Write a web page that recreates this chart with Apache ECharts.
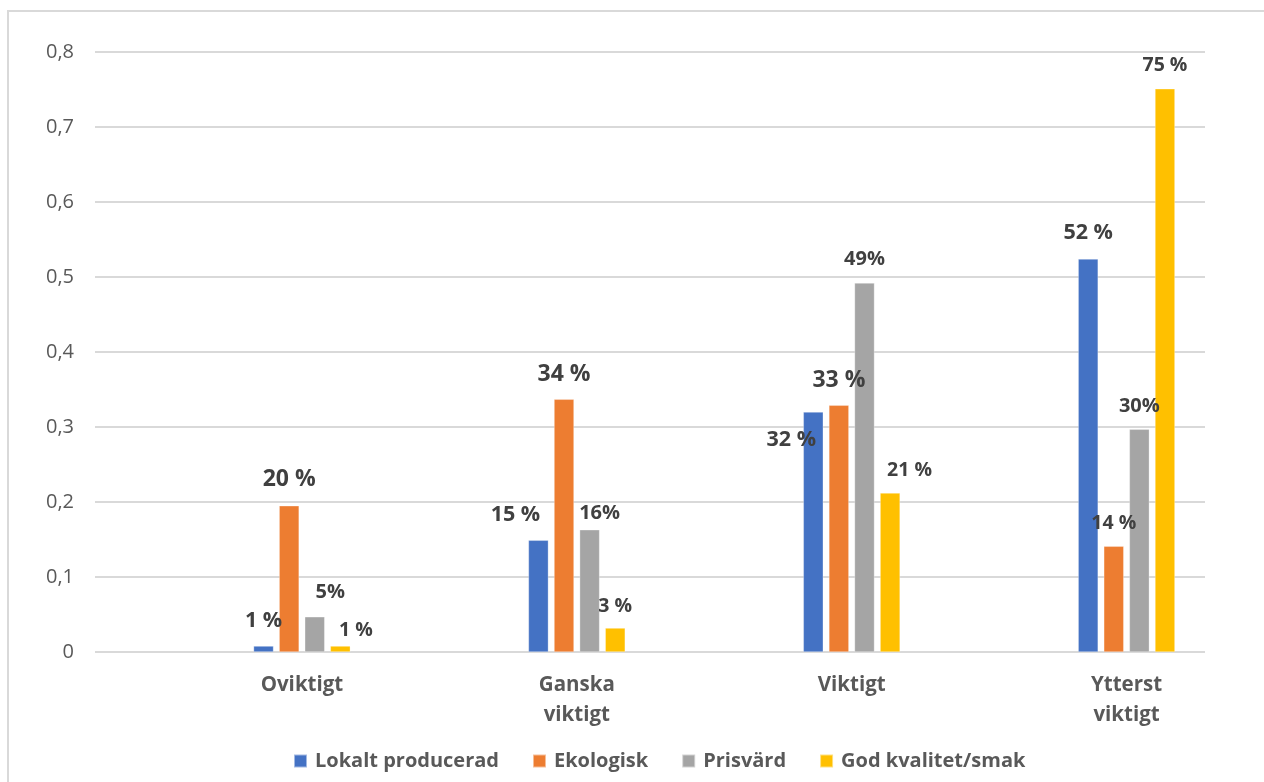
<!DOCTYPE html>
<html>
<head>
<meta charset="utf-8">
<script src="https://cdn.jsdelivr.net/npm/echarts@6/dist/echarts.min.js"></script>
<style>
  html, body { margin: 0; padding: 0; background: #ffffff; }
  #chart { width: 1264px; height: 782px; }
</style>
</head>
<body>
<div id="chart"></div>
<script>
// Categories and answer shares per series (fractions of respondents)
const categories = ['Oviktigt', 'Ganska\nviktigt', 'Viktigt', 'Ytterst\nviktigt'];
const lokaltProducerad = [0.008, 0.149, 0.320, 0.524];
const ekologisk = [0.195, 0.337, 0.329, 0.141];
const prisvard = [0.047, 0.163, 0.492, 0.297];
const godKvalitet = [0.008, 0.032, 0.212, 0.751];
const yTickLabels = ['0', '0,1', '0,2', '0,3', '0,4', '0,5', '0,6', '0,7', '0,8'];

// Visual settings per series: colour, label font size, percent format and label nudges [dx, dy from bar top]
const seriesDefs = [
  { name: 'Lokalt producerad', values: lokaltProducerad, color: '#4472C4', space: true,
    sizes: [21.5, 21.5, 21.5, 21.5], nudge: [[0, -25], [-23, -25], [-22, 28], [0, -26]] },
  { name: 'Ekologisk', values: ekologisk, color: '#ED7D31', space: true,
    sizes: [23, 23, 23, 19.5], nudge: [[0, -26], [0, -25], [0, -25], [0, -23]] },
  { name: 'Prisvärd', values: prisvard, color: '#A5A5A5', space: false,
    sizes: [20, 20, 20, 20], nudge: [[15.5, -24], [10, -16], [0, -24], [0, -23]] },
  { name: 'God kvalitet/smak', values: godKvalitet, color: '#FFC000', space: true,
    sizes: [19.5, 19.5, 19.5, 19.5], nudge: [[15.5, -16], [0, -22], [19.5, -23], [0, -23]] }
];

const FONT = '"Open Sans", "Noto Sans", sans-serif';
const Y_MAX = 0.8;

const series = seriesDefs.map(def => ({
  name: def.name,
  type: 'bar',
  xAxisIndex: 1,
  yAxisIndex: 1,
  barWidth: 20,
  barGap: '28%',
  itemStyle: { color: def.color, borderColor: 'rgba(255,255,255,0.5)', borderWidth: 0.6 },
  data: def.values.map((v, i) => {
    const fs = def.sizes[i];
    return {
      value: v,
      label: {
        fontSize: fs,
        lineHeight: fs,
        offset: [def.nudge[i][0], def.nudge[i][1] + fs / 2]
      }
    };
  }),
  label: {
    show: true,
    position: 'top',
    distance: 0,
    color: '#404040',
    fontWeight: 'bold',
    fontFamily: FONT,
    formatter: p => Math.round(p.value * 100) + (def.space ? ' %' : '%')
  }
}));

const chart = echarts.init(document.getElementById('chart'), null, { renderer: 'canvas' });
chart.setOption({
  backgroundColor: '#ffffff',
  animation: false,
  graphic: [{
    type: 'rect',
    shape: { x: 8, y: 11, width: 1300, height: 820 },
    style: { fill: 'none', stroke: '#d9d9d9', lineWidth: 2 },
    silent: true,
    z: -10
  }],
  grid: [
    // value scale and gridlines
    { left: 95, width: 1110, top: 52, height: 600 },
    // category bands for the bars
    { left: 164.5, width: 1110, top: 52, height: 600 }
  ],
  xAxis: [
    { type: 'value', gridIndex: 0, show: false, min: 0, max: 1 },
    {
      type: 'category', gridIndex: 1, data: categories,
      axisLine: { show: false }, axisTick: { show: false },
      axisLabel: {
        color: '#595959', fontFamily: FONT, fontWeight: 'bold',
        fontSize: 20.5, lineHeight: 30, margin: 18, interval: 0
      }
    }
  ],
  yAxis: [
    {
      type: 'value', gridIndex: 0, min: 0, max: Y_MAX, interval: 0.1,
      axisLine: { show: false }, axisTick: { show: false },
      splitLine: { lineStyle: { color: '#d9d9d9', width: 2 } },
      axisLabel: {
        color: '#595959', fontFamily: FONT, fontSize: 20, margin: 21,
        formatter: (v) => yTickLabels[Math.round(v * 10)]
      }
    },
    { type: 'value', gridIndex: 1, min: 0, max: Y_MAX, show: false }
  ],
  legend: {
    left: 293,
    top: 751,
    padding: 0,
    icon: 'rect',
    itemWidth: 13,
    itemHeight: 13,
    itemGap: 33,
    textStyle: {
      color: '#595959', fontFamily: FONT, fontWeight: 'bold', fontSize: 20,
      padding: [0, 0, 0, 3]
    },
    data: seriesDefs.map(d => d.name)
  },
  series: series
});
</script>
</body>
</html>
